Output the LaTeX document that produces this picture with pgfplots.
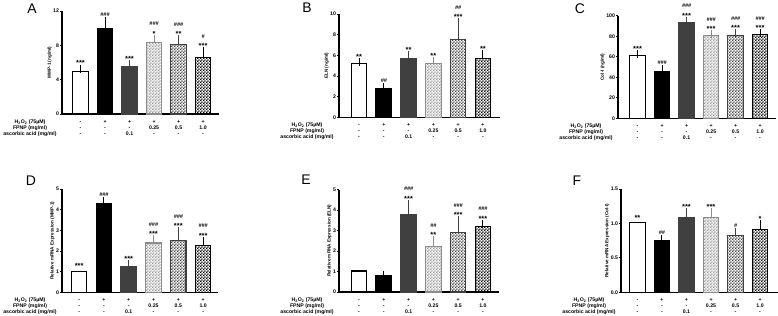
\documentclass[border=0pt]{standalone}
\usepackage{fontspec}
\setmainfont{Liberation Sans}
\usepackage{pgfplots}
\pgfplotsset{compat=1.18}
\usetikzlibrary{patterns}
\pgfdeclarepatternformonly{chk}{\pgfqpoint{0pt}{0pt}}{\pgfqpoint{3.2pt}{3.2pt}}{\pgfqpoint{3.2pt}{3.2pt}}{%
 \pgfpathrectangle{\pgfqpoint{0pt}{0pt}}{\pgfqpoint{1.6pt}{1.6pt}}%
 \pgfpathrectangle{\pgfqpoint{1.6pt}{1.6pt}}{\pgfqpoint{1.6pt}{1.6pt}}%
 \pgfusepath{fill}}
\tikzset{
 rw/.style={font=\fontsize{5.2}{6}\selectfont\bfseries, anchor=base, inner sep=0pt},
 astn/.style={font=\fontsize{7.5}{7.5}\selectfont\bfseries, anchor=base, inner sep=0pt, yshift=2.6bp},
 hsn/.style={font=\fontsize{5.5}{6}\selectfont\bfseries\itshape, anchor=base, inner sep=0pt},
}
\pgfplotsset{
 gp/.style={scale only axis, anchor=south west, axis x line=bottom, axis y line=left,
  axis line style={line width=1.1bp,-}, every outer x axis line/.append style={-}, every outer y axis line/.append style={-},
  tick align=outside, xtick=\empty, ymin=0, clip=false,
  major tick length=2bp, tick style={line width=0.9bp, black},
  yticklabel style={font=\fontsize{5.2}{6}\selectfont\bfseries, inner sep=0.8bp},
  ylabel style={font=\fontsize{4.6}{5}\selectfont\bfseries, inner sep=0.5bp}},
 bb/.style={ybar, bar shift=0pt, bar width=15.5bp, line width=1.2bp, draw=#1,
  error bars/y dir=plus, error bars/y explicit,
  error bars/error bar style={line width=1bp, draw=#1},
  error bars/error mark options={line width=1bp, mark size=4bp, draw=#1}},
 s0/.style={bb=black, fill=white},
 n0/.style={ybar, bar shift=0pt, bar width=15.5bp, line width=1.2bp, draw=black, fill=white},
 s1/.style={bb=black, fill=black},
 s2/.style={bb=black!75, fill=black!75},
 s3/.style={bb=black!45, pattern=chk, pattern color=black!40},
 s4/.style={bb=black!75, pattern=chk, pattern color=black!72},
 s5/.style={bb=black, pattern=chk, pattern color=black},
}
\newcommand\aS[3]{\node[astn] at (axis cs:#1,#2) {#3};}
\newcommand\hS[3]{\node[hsn, yshift=4.6bp] at (axis cs:#1,#2) {#3};}
\newcommand\bS[4]{\node[astn] at (axis cs:#1,#2) {#4};\node[hsn, yshift=13bp] at (axis cs:#1,#2) {#3};}
\newcommand\col[4]{\node[rw, yshift=-9.2bp] at (axis cs:#1,0) {#2};\node[rw, yshift=-15.4bp] at (axis cs:#1,0) {#3};\node[rw, yshift=-21.6bp] at (axis cs:#1,0) {#4};}
\newcommand\rows{%
 \node[rw, yshift=-9.2bp, xshift=-32bp] at (rel axis cs:0,0) {H\textsubscript{2}O\textsubscript{2} (75µM)};
 \node[rw, yshift=-15.4bp, xshift=-32bp] at (rel axis cs:0,0) {FPNP (mg/ml)};
 \node[rw, yshift=-21.6bp, xshift=-32bp] at (rel axis cs:0,0) {ascorbic acid (mg/ml)};
 \col{0}{-}{-}{-}\col{1}{+}{-}{-}\col{2}{+}{-}{0.1}\col{3}{+}{0.25}{-}\col{4}{+}{0.5}{-}\col{5}{+}{1.0}{-}}
\begin{document}
\begin{tikzpicture}
\useasboundingbox (0,0) rectangle (778bp,316bp);
% Panel A
\begin{axis}[gp, at={(62bp,202bp)}, width=157bp, height=103bp, xmin=-0.755, xmax=5.65, ymax=12,
 ytick={0,4,8,12}, yticklabels={0,4,8,12}, ylabel={MMP-1 (ng/ml)}]
\addplot[s0] coordinates {(0,4.95) +- (0,0.35)};
\addplot[s1] coordinates {(1,9.95) +- (0,0.85)};
\addplot[s2] coordinates {(2,5.5) +- (0,0.3)};
\addplot[s3] coordinates {(3,8.3) +- (0,0.45)};
\addplot[s4] coordinates {(4,8.1) +- (0,0.6)};
\addplot[s5] coordinates {(5,6.6) +- (0,0.7)};
\aS{0}{5.3}{***}\hS{1}{10.8}{\#\#\#}\aS{2}{5.8}{***}
\bS{3}{8.75}{\#\#\#}{*}\bS{4}{8.7}{\#\#\#}{**}\bS{5}{7.3}{\#}{***}
\rows
\end{axis}
% Panel B
\begin{axis}[gp, at={(339bp,198.7bp)}, width=161bp, height=103.3bp, xmin=-0.81, xmax=5.69, ymax=10,
 ytick={0,2,4,6,8,10}, yticklabels={0,2,4,6,8,10}, ylabel={ELN (ng/ml)}]
\addplot[s0] coordinates {(0,5.18) +- (0,0.15)};
\addplot[s1] coordinates {(1,2.82) +- (0,0.1)};
\addplot[s2] coordinates {(2,5.72) +- (0,0.32)};
\addplot[s3] coordinates {(3,5.23) +- (0,0.25)};
\addplot[s4] coordinates {(4,7.55) +- (0,1.67)};
\addplot[s5] coordinates {(5,5.72) +- (0,0.4)};
\aS{0}{5.33}{**}\hS{1}{2.92}{\#\#}\aS{2}{6.04}{**}
\aS{3}{5.48}{**}\bS{4}{9.22}{\#\#}{***}\aS{5}{6.12}{**}
\rows
\end{axis}
% Panel C
\begin{axis}[gp, at={(618bp,197.7bp)}, width=158bp, height=102.6bp, xmin=-0.8, xmax=5.65, ymax=100,
 ytick={0,20,40,60,80,100}, yticklabels={0,20,40,60,80,100}, ylabel={Col-I (ng/ml)}]
\addplot[s0] coordinates {(0,60.9) +- (0,1.7)};
\addplot[s1] coordinates {(1,45.5) +- (0,2.2)};
\addplot[s2] coordinates {(2,93.5) +- (0,1.6)};
\addplot[s3] coordinates {(3,80.9) +- (0,1.0)};
\addplot[s4] coordinates {(4,80.9) +- (0,1.9)};
\addplot[s5] coordinates {(5,81.9) +- (0,0.9)};
\aS{0}{62.6}{***}\hS{1}{47.7}{\#\#\#}\bS{2}{95.1}{\#\#\#}{***}
\bS{3}{81.9}{\#\#\#}{***}\bS{4}{82.8}{\#\#\#}{***}\bS{5}{82.8}{\#\#\#}{***}
\rows
\end{axis}
% Panel D
\begin{axis}[gp, at={(62bp,23.7bp)}, width=156bp, height=103.3bp, xmin=-0.69, xmax=5.6, ymax=5,
 ytick={0,1,2,3,4,5}, yticklabels={0,1,2,3,4,5}, ylabel={Relative mRNA Expression (MMP-1)}]
\addplot[n0] coordinates {(0,1.02)};
\addplot[s1] coordinates {(1,4.31) +- (0,0.12)};
\addplot[s2] coordinates {(2,1.26) +- (0,0.09)};
\addplot[s3] coordinates {(3,2.39) +- (0,0.17)};
\addplot[s4] coordinates {(4,2.52) +- (0,0.43)};
\addplot[s5] coordinates {(5,2.27) +- (0,0.23)};
\aS{0}{1.02}{***}\hS{1}{4.43}{\#\#\#}\aS{2}{1.35}{***}
\bS{3}{2.56}{\#\#\#}{***}\bS{4}{2.95}{\#\#\#}{***}\bS{5}{2.5}{\#\#\#}{***}
\rows
\end{axis}
% Panel E
\begin{axis}[gp, at={(339bp,24bp)}, width=160bp, height=102.5bp, xmin=-0.81, xmax=5.65, ymax=5,
 ytick={0,1,2,3,4,5}, yticklabels={0,1,2,3,4,5}, ylabel={Relative mRNA Expression (ELN)}]
\addplot[n0] coordinates {(0,1.02)};
\addplot[s1] coordinates {(1,0.78) +- (0,0.06)};
\addplot[s2] coordinates {(2,3.8) +- (0,0.5)};
\addplot[s3] coordinates {(3,2.22) +- (0,0.3)};
\addplot[s4] coordinates {(4,2.91) +- (0,0.6)};
\addplot[s5] coordinates {(5,3.19) +- (0,0.13)};
\bS{2}{4.3}{\#\#\#}{***}\bS{3}{2.52}{\#\#}{**}\bS{4}{3.51}{\#\#\#}{***}\bS{5}{3.32}{\#\#\#}{***}
\rows
\end{axis}
% Panel F
\begin{axis}[gp, at={(621bp,23.7bp)}, width=157bp, height=103.3bp, xmin=-0.67, xmax=5.73, ymax=1.5,
 ytick={0,0.5,1,1.5}, yticklabels={0.0,0.5,1.0,1.5}, ylabel={Relative mRNA Expression (Col-I)}]
\addplot[n0] coordinates {(0,1.01)};
\addplot[s1] coordinates {(1,0.75) +- (0,0.02)};
\addplot[s2] coordinates {(2,1.08) +- (0,0.085)};
\addplot[s3] coordinates {(3,1.09) +- (0,0.075)};
\addplot[s4] coordinates {(4,0.827) +- (0,0.043)};
\addplot[s5] coordinates {(5,0.914) +- (0,0.073)};
\aS{0}{1.01}{**}\hS{1}{0.77}{\#\#}\aS{2}{1.165}{***}
\aS{3}{1.165}{***}\hS{4}{0.87}{\#}\aS{5}{0.987}{*}
\rows
\end{axis}
\node[font=\fontsize{14}{14}\selectfont, inner sep=0pt] at (32bp,307bp) {A};
\node[font=\fontsize{14}{14}\selectfont, inner sep=0pt] at (307bp,308bp) {B};
\node[font=\fontsize{14}{14}\selectfont, inner sep=0pt] at (580bp,307.5bp) {C};
\node[font=\fontsize{14}{14}\selectfont, inner sep=0pt] at (31bp,135bp) {D};
\node[font=\fontsize{14}{14}\selectfont, inner sep=0pt] at (306bp,136bp) {E};
\node[font=\fontsize{14}{14}\selectfont, inner sep=0pt] at (577bp,135bp) {F};
\end{tikzpicture}
\end{document}
